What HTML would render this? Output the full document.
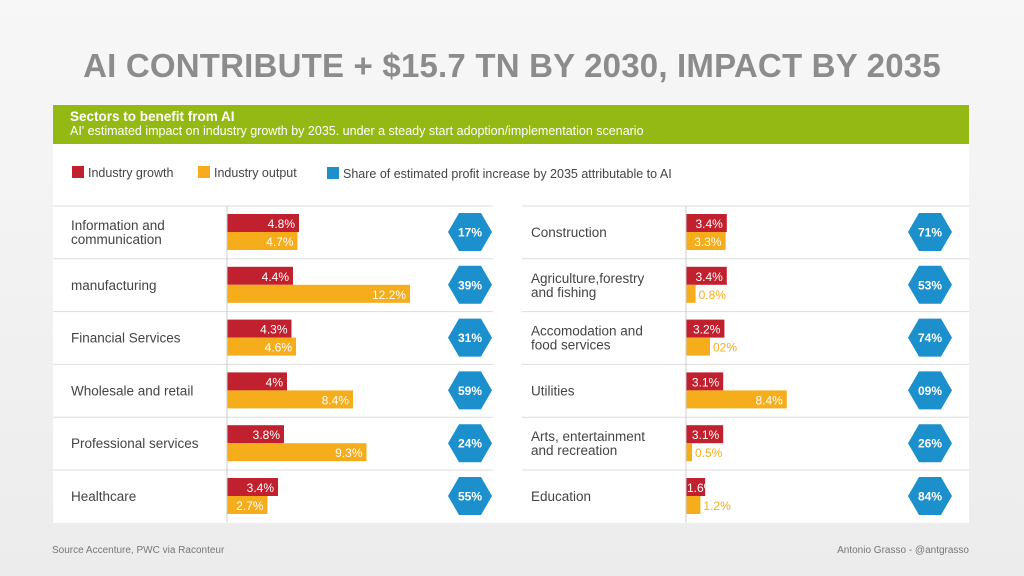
<!DOCTYPE html>
<html><head><meta charset="utf-8">
<style>
body{margin:0;width:1024px;height:576px;overflow:hidden;background:linear-gradient(#f7f7f7,#ececec);font-family:"Liberation Sans",sans-serif;position:relative}
#title{position:absolute;left:0;width:1024px;top:47px;text-align:center;font-size:33px;font-weight:bold;color:#8c8c8c;letter-spacing:0.2px}
#panel{position:absolute;left:53px;top:105px;width:916px;height:418px;background:#fff}
#head{position:absolute;left:0;top:0;width:916px;height:39px;background:#95b914;color:#fff}
.foot{position:absolute;top:545px;font-size:10px;color:#777}
</style></head><body>
<div id="title">AI CONTRIBUTE + $15.7 TN BY 2030, IMPACT BY 2035</div>
<div id="panel">
<div id="head">
<div style="position:absolute;left:17px;top:4px;font-size:13.5px;font-weight:bold">Sectors to benefit from AI</div>
<div style="position:absolute;left:17px;top:19px;font-size:12.5px">AI' estimated impact on industry growth by 2035. under a steady start adoption/implementation scenario</div>
</div>
</div>
<svg id="chart" width="1024" height="576" style="position:absolute;left:0;top:0"></svg>
<div class="foot" style="left:52px">Source Accenture, PWC via Raconteur</div>
<div class="foot" style="right:55px">Antonio Grasso - @antgrasso</div>
<script>
const leftCats=["Information and|communication","manufacturing","Financial Services","Wholesale and retail","Professional services","Healthcare"];
const leftGrowth=[4.8,4.4,4.3,4,3.8,3.4];
const leftOutput=[4.7,12.2,4.6,8.4,9.3,2.7];
const leftShare=["17%","39%","31%","59%","24%","55%"];
const leftGrowthLbl=["4.8%","4.4%","4.3%","4%","3.8%","3.4%"];
const leftOutputLbl=["4.7%","12.2%","4.6%","8.4%","9.3%","2.7%"];
const rightCats=["Construction","Agriculture,forestry|and fishing","Accomodation and|food services","Utilities","Arts, entertainment|and recreation","Education"];
const rightGrowth=[3.4,3.4,3.2,3.1,3.1,1.6];
const rightOutput=[3.3,0.8,2,8.4,0.5,1.2];
const rightShare=["71%","53%","74%","09%","26%","84%"];
const rightGrowthLbl=["3.4%","3.4%","3.2%","3.1%","3.1%","1.6%"];
const rightOutputLbl=["3.3%","0.8%","02%","8.4%","0.5%","1.2%"];
const svg=document.getElementById('chart');
const NS='http://www.w3.org/2000/svg';
function mk(t,a,txt){const e=document.createElementNS(NS,t);for(const k in a)e.setAttribute(k,a[k]);if(txt!=null)e.textContent=txt;svg.appendChild(e);return e;}
const RED='#c1202f',ORA='#f5ad1c',BLUE='#1c8fcd';
let e;
e=mk('rect',{x:72,y:166,width:12,height:12,fill:RED});
e=mk('text',{x:88,y:177,'font-size':12.5,fill:'#444'},'Industry growth');
e=mk('rect',{x:198,y:166,width:12,height:12,fill:ORA});
e=mk('text',{x:214,y:177,'font-size':12.5,fill:'#444'},'Industry output');
e=mk('rect',{x:327,y:167,width:12,height:12,fill:BLUE});
e=mk('text',{x:343,y:178,'font-size':12.5,fill:'#444'},'Share of estimated profit increase by 2035 attributable to AI');
const top0=206,rowH=52.8;
function panel(side,x0,x1,labelX,axisX,scale,hexX,cats,g,o,sh,gl,ol){
  for(let i=0;i<cats.length;i++){
    const y=top0+i*rowH;
    e=mk('line',{x1:x0,x2:x1,y1:y,y2:y,stroke:'#ddd','stroke-width':1});
    const lines=cats[i].split('|');
    lines.forEach((l,j)=>{e=mk('text',{x:labelX,y:y+26+(lines.length==2?(j*14-7):0)+5,'font-size':13.5,fill:'#444'},l);});
    const gw=g[i]*scale,ow=o[i]*scale;
    e=mk('rect',{x:axisX,y:y+8,width:gw,height:18,fill:RED});
    const gIn=gw>32;
    e=mk('text',{x:gIn?axisX+gw-4:axisX+1,y:y+22,'font-size':12,fill:'#fff','text-anchor':gIn?'end':'start'},gl[i]);
    e=mk('rect',{x:axisX,y:y+26,width:ow,height:18,fill:ORA});
    const inside=ow>34;
    e=mk('text',{x:inside?axisX+ow-4:axisX+ow+3,y:y+40,'font-size':12,fill:inside?'#fff':ORA,'text-anchor':inside?'end':'start'},ol[i]);
    const cy=y+26,w=22,h=19;
    e=mk('polygon',{points:`${hexX-w},${cy} ${hexX-w/2},${cy-h} ${hexX+w/2},${cy-h} ${hexX+w},${cy} ${hexX+w/2},${cy+h} ${hexX-w/2},${cy+h}`,fill:BLUE});
    e=mk('text',{x:hexX,y:cy+4.5,'font-size':12,'font-weight':'bold',fill:'#fff','text-anchor':'middle'},sh[i]);
  }
  e=mk('line',{x1:axisX,x2:axisX,y1:top0,y2:top0+cats.length*rowH,stroke:'#ccc','stroke-width':1});
}
panel('left',53,493,71,227,15,470,leftCats,leftGrowth,leftOutput,leftShare,leftGrowthLbl,leftOutputLbl);
panel('right',522,969,531,686,12,930,rightCats,rightGrowth,rightOutput,rightShare,rightGrowthLbl,rightOutputLbl);
</script>
</body></html>
